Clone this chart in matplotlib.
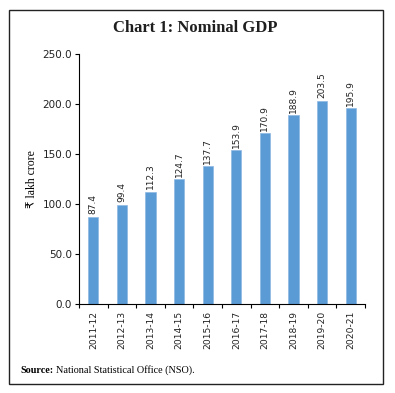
import matplotlib.pyplot as plt
from matplotlib.patches import Rectangle
import numpy as np

years = ["2011-12", "2012-13", "2013-14", "2014-15", "2015-16",
         "2016-17", "2017-18", "2018-19", "2019-20", "2020-21"]
gdp = [87.4, 99.4, 112.3, 124.7, 137.7, 153.9, 170.9, 188.9, 203.5, 195.9]

fig = plt.figure(figsize=(3.95, 3.93), dpi=100)
ax = fig.add_axes([0.2, 0.2265, 0.724, 0.636])

x = np.arange(len(years))
ax.bar(x, gdp, width=0.36, color="#5B9BD5", edgecolor="#8DB9E3", linewidth=0.5)
for xi, v in zip(x, gdp):
    ax.text(xi, v + 2.5, f"{v:.1f}", rotation=90, ha="center", va="bottom",
            fontsize=6.5, color="#222222")

ax.set_xlim(-0.5, len(years) - 0.5)
ax.set_ylim(0, 250)
ax.set_yticks(np.arange(0, 251, 50))
ax.set_yticklabels([f"{t:.1f}" for t in np.arange(0, 251, 50)], fontsize=7.5, color="#222222")
ax.set_xticks(x)
ax.set_xticklabels(years, rotation=90, fontsize=6.6, color="#222222")
ax.tick_params(axis="x", length=0, pad=5)
ax.set_xticks(np.arange(-0.5, len(years), 1), minor=True)
ax.tick_params(axis="x", which="minor", length=3, width=0.8)
ax.tick_params(axis="y", length=3, width=0.8, pad=2)
for s in ["top", "right"]:
    ax.spines[s].set_visible(False)
ax.spines["left"].set_linewidth(0.8)
ax.spines["bottom"].set_linewidth(0.8)
ax.set_ylabel("₹ lakh crore", fontsize=8.5, family=["Liberation Serif", "DejaVu Sans"], labelpad=3)

fig.text(0.495, 0.929, "Chart 1: Nominal GDP", ha="center", va="center",
         fontsize=12, fontweight="bold", family="Liberation Serif", color="#1f1f1f")
src = fig.text(0.053, 0.058, "Source:", fontsize=7.3, fontweight="bold",
               family="Liberation Serif", va="center")
fig.text(0.142, 0.058, "National Statistical Office (NSO).", fontsize=7.3,
         family="Liberation Serif", va="center")

fig.add_artist(Rectangle((0.0228, 0.0229), 0.9468, 0.9517, transform=fig.transFigure,
                         fill=False, edgecolor="#222222", linewidth=1.0))

fig.savefig("out.png", dpi=100)
